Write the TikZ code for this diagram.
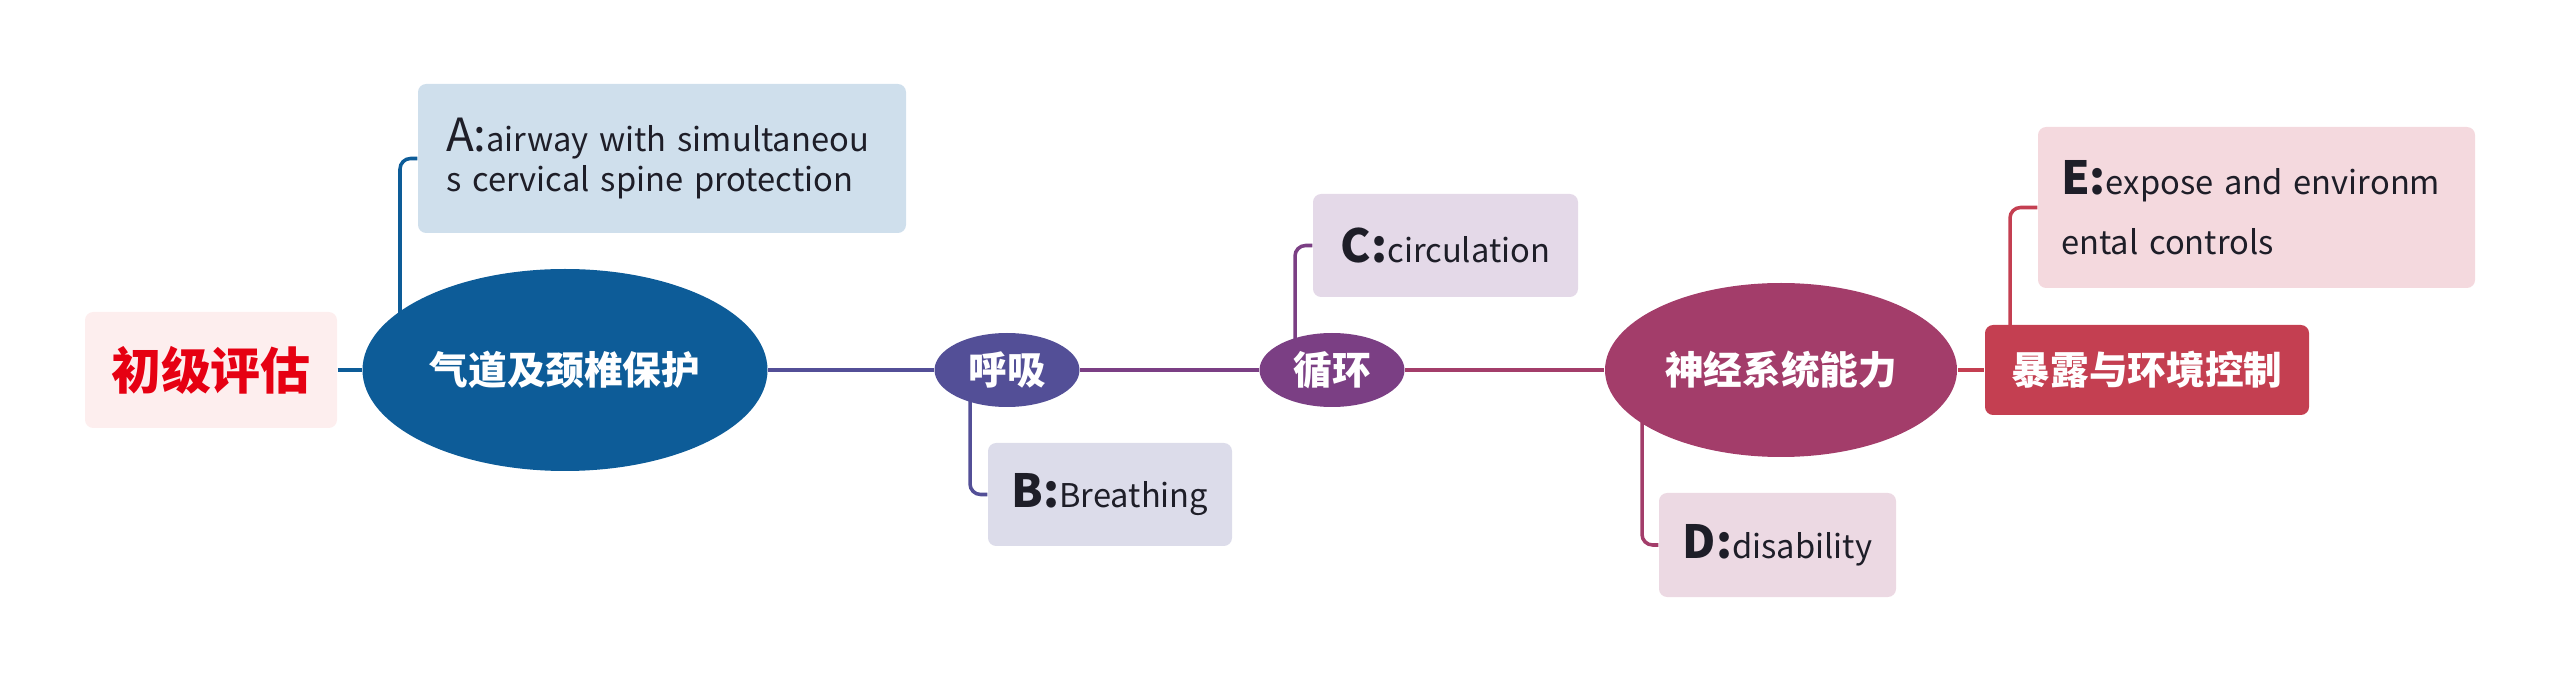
\documentclass[tikz,border=0pt]{standalone}
\usepackage{fontspec}
\setmainfont{Noto Sans CJK SC}
\usepackage{tikz}
\usetikzlibrary{shapes.geometric,positioning,calc,backgrounds}
\usepackage{xcolor}
\definecolor{AirBlue}{HTML}{0D5C98}
\definecolor{BreathIndigo}{HTML}{534F97}
\definecolor{CircPurple}{HTML}{7B3F84}
\definecolor{NeuroBerry}{HTML}{A33D6A}
\definecolor{ExpoRed}{HTML}{C43F51}
\definecolor{ABlue}{HTML}{CFDFEC}
\definecolor{BLav}{HTML}{DCDCEA}
\definecolor{CLilac}{HTML}{E4D9E8}
\definecolor{DPink}{HTML}{ECD9E3}
\definecolor{EPink}{HTML}{F4D9DE}
\definecolor{RootPink}{HTML}{FDEEEE}
\definecolor{RootRed}{HTML}{E60012}
\definecolor{LeafInk}{HTML}{1E1E28}
\newcommand{\keyletter}[1]{{\fontsize{13}{13}\selectfont\bfseries #1:}}

\begin{document}
\begin{tikzpicture}[
    hub/.style={ellipse, fill=#1, text=white, inner sep=0pt, font=\bfseries\fontsize{11}{13}\selectfont},
    leaf/.style={fill=#1, rounded corners=2.3pt, inner sep=0pt, text=LeafInk, font=\fontsize{9.3}{13.4}\selectfont, align=left},
    link/.style={draw=#1, line width=1pt, rounded corners=3pt},
    spine/.style={draw=#1, line width=1pt}
  ]
    \useasboundingbox (0,0) rectangle (25.6,6.81);

    % main chain
    \node[fill=RootPink, rounded corners=2.3pt, minimum width=2.52cm, minimum height=1.16cm, text=RootRed, font=\bfseries\fontsize{14.2}{16}\selectfont] (root) at (2.11, 3.11) {初级评估};
    \node[hub=AirBlue, minimum width=4.05cm, minimum height=2.02cm] (airway) at (5.65, 3.11) {气道及颈椎保护};
    \node[hub=BreathIndigo, minimum width=1.45cm, minimum height=0.74cm] (breath) at (10.07, 3.11) {呼吸};
    \node[hub=CircPurple, minimum width=1.45cm, minimum height=0.74cm] (circ) at (13.32, 3.11) {循环};
    \node[hub=NeuroBerry, minimum width=3.52cm, minimum height=1.74cm] (neuro) at (17.81, 3.11) {神经系统能力};
    \node[fill=ExpoRed, rounded corners=2.3pt, minimum width=3.24cm, minimum height=0.90cm, text=white, font=\bfseries\fontsize{11}{13}\selectfont] (expo) at (21.47, 3.11) {暴露与环境控制};

    % leaves
    \node[leaf=ABlue, minimum width=4.88cm, minimum height=1.49cm, text width=4.32cm, font=\fontsize{9.3}{11.6}\selectfont] (aBox) at (6.62, 5.225) {{\fontsize{13}{13}\selectfont A:}airway with simultaneou\\s cervical spine protection};
    \node[leaf=BLav, minimum width=2.44cm, minimum height=1.03cm] (bBox) at (11.10, 1.865) {\keyletter{B}Breathing};
    \node[leaf=CLilac, minimum width=2.65cm, minimum height=1.03cm] (cBox) at (14.455, 4.355) {\keyletter{C}circulation};
    \node[leaf=DPink, minimum width=2.37cm, minimum height=1.04cm] (dBox) at (17.775, 1.36) {\keyletter{D}disability};
    \node[leaf=EPink, minimum width=4.37cm, minimum height=1.61cm, text width=3.91cm, font=\fontsize{9.3}{17}\selectfont] (eBox) at (22.565, 4.735) {\keyletter{E}expose and environm\\ental controls};

    \begin{scope}[on background layer]
      \draw[spine=AirBlue] (root) -- (airway);
      \draw[spine=BreathIndigo] (airway) -- (breath);
      \draw[spine=CircPurple] (breath) -- (circ);
      \draw[spine=NeuroBerry] (circ) -- (neuro);
      \draw[spine=ExpoRed] (neuro) -- (expo);

      \draw[link=AirBlue] ($(airway.center)+(-1.65,0)$) |- (aBox.west);
      \draw[link=BreathIndigo] ($(breath.center)+(-0.37,0)$) |- (bBox.west);
      \draw[link=CircPurple] ($(circ.center)+(-0.37,0)$) |- (cBox.west);
      \draw[link=NeuroBerry] ($(neuro.center)+(-1.39,0)$) |- (dBox.west);
      \draw[link=ExpoRed] ($(expo.center)+(-1.37,0)$) |- (eBox.west);
    \end{scope}
  \end{tikzpicture}
\end{document}
